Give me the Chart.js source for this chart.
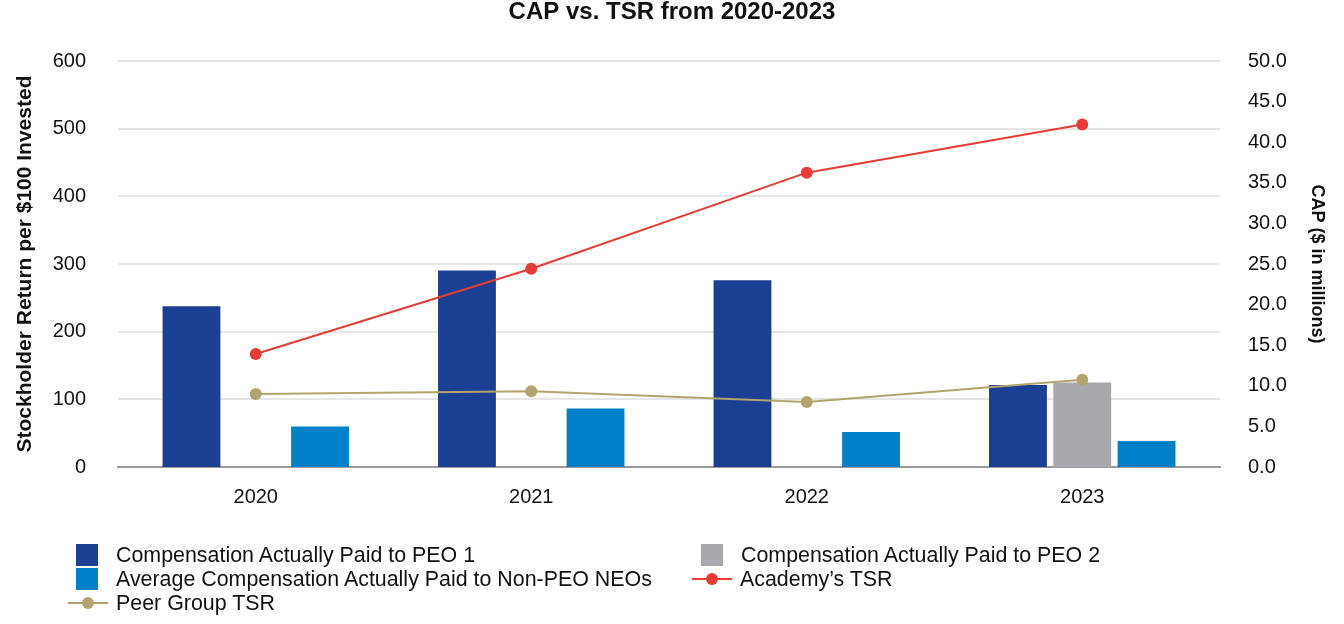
<!DOCTYPE html>
<html>
<head>
<meta charset="utf-8">
<script src="https://cdn.jsdelivr.net/npm/chart.js@4.4.0/dist/chart.umd.min.js"></script>
<style>
  body { margin: 0; background: #fff; font-family: "Liberation Sans", Arial, sans-serif; }
  #wrap { position: relative; width: 1344px; height: 624px; }
  #legend { position: absolute; left: 0; top: 0; width: 1344px; height: 624px; pointer-events: none; }
  .item { position: absolute; font-size: 21.4px; color: #111; line-height: 22px; white-space: nowrap; }
  .sw { position: absolute; }
</style>
</head>
<body>
<div id="wrap">
  <canvas id="myChart" width="1344" height="624"></canvas>
  <div id="legend"></div>
</div>
<script>
// data
var years = ["2020", "2021", "2022", "2023"];
var capPeo1 = [19.8, 24.2, 23.0, 10.1];
var capPeo2 = [null, null, null, 10.4];
var capNonPeo = [5.0, 7.2, 4.3, 3.2];
var academyTsr = [167, 293, 435, 506];
var peerTsr = [108, 112, 96, 129];

var font = "'Liberation Sans', Arial, sans-serif";

var ctx = document.getElementById("myChart").getContext("2d");
var chart = new Chart(ctx, {
  type: "bar",
  data: {
    labels: years,
    datasets: [
      {
        label: "Compensation Actually Paid to PEO 1",
        data: capPeo1,
        backgroundColor: "#1b3f92",
        yAxisID: "y1",
        order: 3,
        categoryPercentage: 0.7,
        barPercentage: 0.9,
      },
      {
        label: "Compensation Actually Paid to PEO 2",
        data: capPeo2,
        backgroundColor: "#a7a9ac",
        yAxisID: "y1",
        order: 3,
        categoryPercentage: 0.7,
        barPercentage: 0.9,
      },
      {
        label: "Average Compensation Actually Paid to Non-PEO NEOs",
        data: capNonPeo,
        backgroundColor: "#0080c6",
        yAxisID: "y1",
        order: 3,
        categoryPercentage: 0.7,
        barPercentage: 0.9,
      },
      {
        type: "line",
        label: "Academy\u2019s TSR",
        data: academyTsr,
        borderColor: "#e53d36",
        backgroundColor: "#e53d36",
        borderWidth: 2,
        pointRadius: 6,
        pointBorderWidth: 0,
        yAxisID: "y",
        order: 1,
      },
      {
        type: "line",
        label: "Peer Group TSR",
        data: peerTsr,
        borderColor: "#b3a46f",
        backgroundColor: "#b3a46f",
        borderWidth: 2,
        pointRadius: 6,
        pointBorderWidth: 0,
        yAxisID: "y",
        order: 2,
      },
    ],
  },
  options: {
    responsive: false,
    animation: false,
    layout: { padding: 0 },
    plugins: {
      legend: { display: false },
      tooltip: { enabled: false },
      title: {
        display: true,
        text: "CAP vs. TSR from 2020-2023",
        color: "#111",
        font: { family: font, size: 24, weight: "bold", lineHeight: 1.0 },
        padding: { top: 0, bottom: 37 },
      },
    },
    scales: {
      x: {
        grid: { display: false, drawTicks: false },
        border: { display: true, color: "#9b9b9b", width: 2 },
        ticks: { color: "#111", font: { family: font, size: 20 }, padding: 18 },
        afterFit: function (scale) { scale.height = 157; },
      },
      y: {
        type: "linear",
        position: "left",
        min: 0,
        max: 600,
        ticks: { stepSize: 100, color: "#111", font: { family: font, size: 20 }, padding: 32 },
        grid: { color: "#e6e6e6", lineWidth: 2, drawTicks: false },
        border: { display: false },
        title: {
          display: true,
          text: "Stockholder Return per $100 Invested",
          color: "#111",
          font: { family: font, size: 21, weight: "bold" },
          padding: { top: 13, bottom: 0 },
        },
        afterFit: function (scale) { scale.width = 118; },
      },
      y1: {
        type: "linear",
        position: "right",
        min: 0,
        max: 50,
        ticks: {
          stepSize: 5,
          color: "#111",
          font: { family: font, size: 20 },
          padding: 28,
          callback: function (v) { return v.toFixed(1); },
        },
        grid: { display: false, drawTicks: false },
        border: { display: false },
        title: {
          display: true,
          text: "CAP ($ in millions)",
          color: "#111",
          font: { family: font, size: 18, weight: "bold" },
          padding: { top: 16, bottom: 0 },
        },
        afterFit: function (scale) { scale.width = 124; },
      },
    },
  },
});

// legend in two columns, built from the datasets
var legendPos = [
  { ds: 0, x: 76, y: 544 },
  { ds: 1, x: 701, y: 544 },
  { ds: 2, x: 76, y: 568 },
  { ds: 3, x: 692, y: 568 },
  { ds: 4, x: 68, y: 592 },
];
var legendBox = document.getElementById("legend");
legendPos.forEach(function (p) {
  var d = chart.data.datasets[p.ds];
  var sw = document.createElement("div");
  sw.className = "sw";
  var txt = document.createElement("div");
  txt.className = "item";
  txt.textContent = d.label;
  txt.style.top = p.y + "px";
  if (d.type === "line") {
    sw.style.left = p.x + "px";
    sw.style.top = p.y + 10 + "px";
    sw.style.width = "40px";
    sw.style.height = "2px";
    sw.style.background = d.borderColor;
    var dot = document.createElement("div");
    dot.style.position = "absolute";
    dot.style.left = "14px";
    dot.style.top = "-5px";
    dot.style.width = "12px";
    dot.style.height = "12px";
    dot.style.borderRadius = "6px";
    dot.style.background = d.backgroundColor;
    sw.appendChild(dot);
    txt.style.left = p.x + 48 + "px";
  } else {
    sw.style.left = p.x + "px";
    sw.style.top = p.y + "px";
    sw.style.width = "22px";
    sw.style.height = "22px";
    sw.style.background = d.backgroundColor;
    txt.style.left = p.x + 40 + "px";
  }
  legendBox.appendChild(sw);
  legendBox.appendChild(txt);
});
</script>
</body>
</html>
